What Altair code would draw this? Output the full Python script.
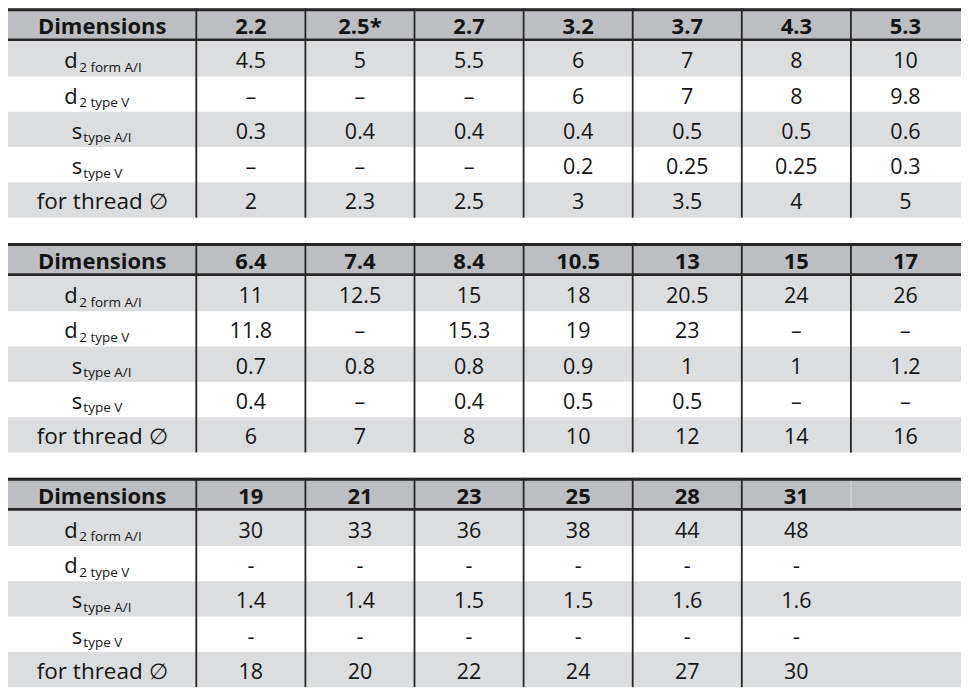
import altair as alt
import pandas as pd

# ---------------- data ----------------
header_label = "Dimensions"
row_main = ["d", "d", "s", "s", "for thread ∅"]
row_sub = ["2 form A/I", "2 type V", "type A/I", "type V", ""]

t1_dims = ["2.2", "2.5*", "2.7", "3.2", "3.7", "4.3", "5.3"]
t1_d2_form = ["4.5", "5", "5.5", "6", "7", "8", "10"]
t1_d2_v = ["–", "–", "–", "6", "7", "8", "9.8"]
t1_s_ai = ["0.3", "0.4", "0.4", "0.4", "0.5", "0.5", "0.6"]
t1_s_v = ["–", "–", "–", "0.2", "0.25", "0.25", "0.3"]
t1_thread = ["2", "2.3", "2.5", "3", "3.5", "4", "5"]

t2_dims = ["6.4", "7.4", "8.4", "10.5", "13", "15", "17"]
t2_d2_form = ["11", "12.5", "15", "18", "20.5", "24", "26"]
t2_d2_v = ["11.8", "–", "15.3", "19", "23", "–", "–"]
t2_s_ai = ["0.7", "0.8", "0.8", "0.9", "1", "1", "1.2"]
t2_s_v = ["0.4", "–", "0.4", "0.5", "0.5", "–", "–"]
t2_thread = ["6", "7", "8", "10", "12", "14", "16"]

t3_dims = ["19", "21", "23", "25", "28", "31"]
t3_d2_form = ["30", "33", "36", "38", "44", "48"]
t3_d2_v = ["-", "-", "-", "-", "-", "-"]
t3_s_ai = ["1.4", "1.4", "1.5", "1.5", "1.6", "1.6"]
t3_s_v = ["-", "-", "-", "-", "-", "-"]
t3_thread = ["18", "20", "22", "24", "27", "30"]

tables = [
    (t1_dims, [t1_d2_form, t1_d2_v, t1_s_ai, t1_s_v, t1_thread]),
    (t2_dims, [t2_d2_form, t2_d2_v, t2_s_ai, t2_s_v, t2_thread]),
    (t3_dims, [t3_d2_form, t3_d2_v, t3_s_ai, t3_s_v, t3_thread]),
]

# ---------------- layout (grid) ----------------
W, H = 954, 680
LABEL_W = 188.5
N_COLS = 7
COL_W = (953 - LABEL_W) / N_COLS
TABLE_STEP = 235
HEAD_H = 33
ROW_H = 35.3
TABLE_H = HEAD_H + 5 * ROW_H
SPLIT = {"d": (-24.5, -23.0), "s": (-20.0, -18.8)}

HEADER_BG = "#bdbec1"
SHADE_BG = "#dcdddf"
LINE = "#262626"
TEXT = "#141414"
FONT = "Open Sans"

rects, hrules, vrules = [], [], []
head_txt, val_txt, lab_txt, main_txt, sub_txt = [], [], [], [], []

label_cx = LABEL_W / 2
for t, (dims, rows) in enumerate(tables):
    top = t * TABLE_STEP
    rects.append(dict(x=0, x2=W, y=top, y2=top + HEAD_H, fill=HEADER_BG))
    for i in range(5):
        if i % 2 == 0:
            ry = top + HEAD_H + i * ROW_H
            rects.append(dict(x=0, x2=W, y=ry, y2=ry + ROW_H, fill=SHADE_BG))
    hrules.append(dict(x=0, x2=W, y=top + 1.5, sw=3, c=LINE))
    hrules.append(dict(x=0, x2=W, y=top + HEAD_H - 1.5, sw=2.6, c=LINE))
    n = len(dims)
    for k in range(n):
        vx = LABEL_W + k * COL_W
        vrules.append(dict(x=vx, y=top, y2=top + TABLE_H, sw=1.8, c=LINE))
    if n < N_COLS:
        vx = LABEL_W + n * COL_W
        vrules.append(dict(x=vx, y=top + 3, y2=top + HEAD_H - 3, sw=1.5, c="#d3d4d6"))
    head_txt.append(dict(x=label_cx, y=top + 26, text=header_label))
    for k, d in enumerate(dims):
        head_txt.append(dict(x=LABEL_W + (k + 0.5) * COL_W, y=top + 26, text=d))
    for i, vals in enumerate(rows):
        by = top + HEAD_H + i * ROW_H + 27
        m, s = row_main[i], row_sub[i]
        if s:
            o1, o2 = SPLIT[m]
            main_txt.append(dict(x=label_cx + o1, y=by, text=m))
            sub_txt.append(dict(x=label_cx + o2, y=by + 3.5, text=s))
        else:
            lab_txt.append(dict(x=label_cx, y=by, text=m))
        for k, v in enumerate(vals):
            val_txt.append(dict(x=LABEL_W + (k + 0.5) * COL_W, y=by, text=v))

xs = alt.Scale(domain=[0, W], range=[0, W])
ys = alt.Scale(domain=[0, H], range=[0, H])
X = lambda f="x": alt.X(f"{f}:Q", scale=xs, axis=None)
Y = lambda f="y": alt.Y(f"{f}:Q", scale=ys, axis=None)

rect_layer = alt.Chart(pd.DataFrame(rects)).mark_rect(strokeWidth=0).encode(
    x=X(), x2="x2:Q", y=Y(), y2="y2:Q", fill=alt.Fill("fill:N", scale=None)
)
hrule_layer = alt.Chart(pd.DataFrame(hrules)).mark_rule().encode(
    x=X(), x2="x2:Q", y=Y(),
    strokeWidth=alt.StrokeWidth("sw:Q", scale=None),
    color=alt.Color("c:N", scale=None),
)
vrule_layer = alt.Chart(pd.DataFrame(vrules)).mark_rule().encode(
    x=X(), y=Y(), y2="y2:Q",
    strokeWidth=alt.StrokeWidth("sw:Q", scale=None),
    color=alt.Color("c:N", scale=None),
)


def text_layer(rows, size, weight="normal", align="center"):
    return alt.Chart(pd.DataFrame(rows)).mark_text(
        font=FONT, fontSize=size, fontWeight=weight, align=align,
        baseline="alphabetic", color=TEXT,
    ).encode(x=X(), y=Y(), text="text:N")


chart = alt.layer(
    rect_layer,
    vrule_layer,
    hrule_layer,
    text_layer(head_txt, 22, "bold"),
    text_layer(val_txt, 21.5),
    text_layer(lab_txt, 22.5),
    text_layer(main_txt, 22, align="right"),
    text_layer(sub_txt, 13.5, align="left"),
).properties(
    width=W, height=H, padding=0, autosize=alt.AutoSizeParams(type="none")
).configure_view(stroke=None)

chart.save("out.html", embed_options={"renderer": "svg", "actions": False})
